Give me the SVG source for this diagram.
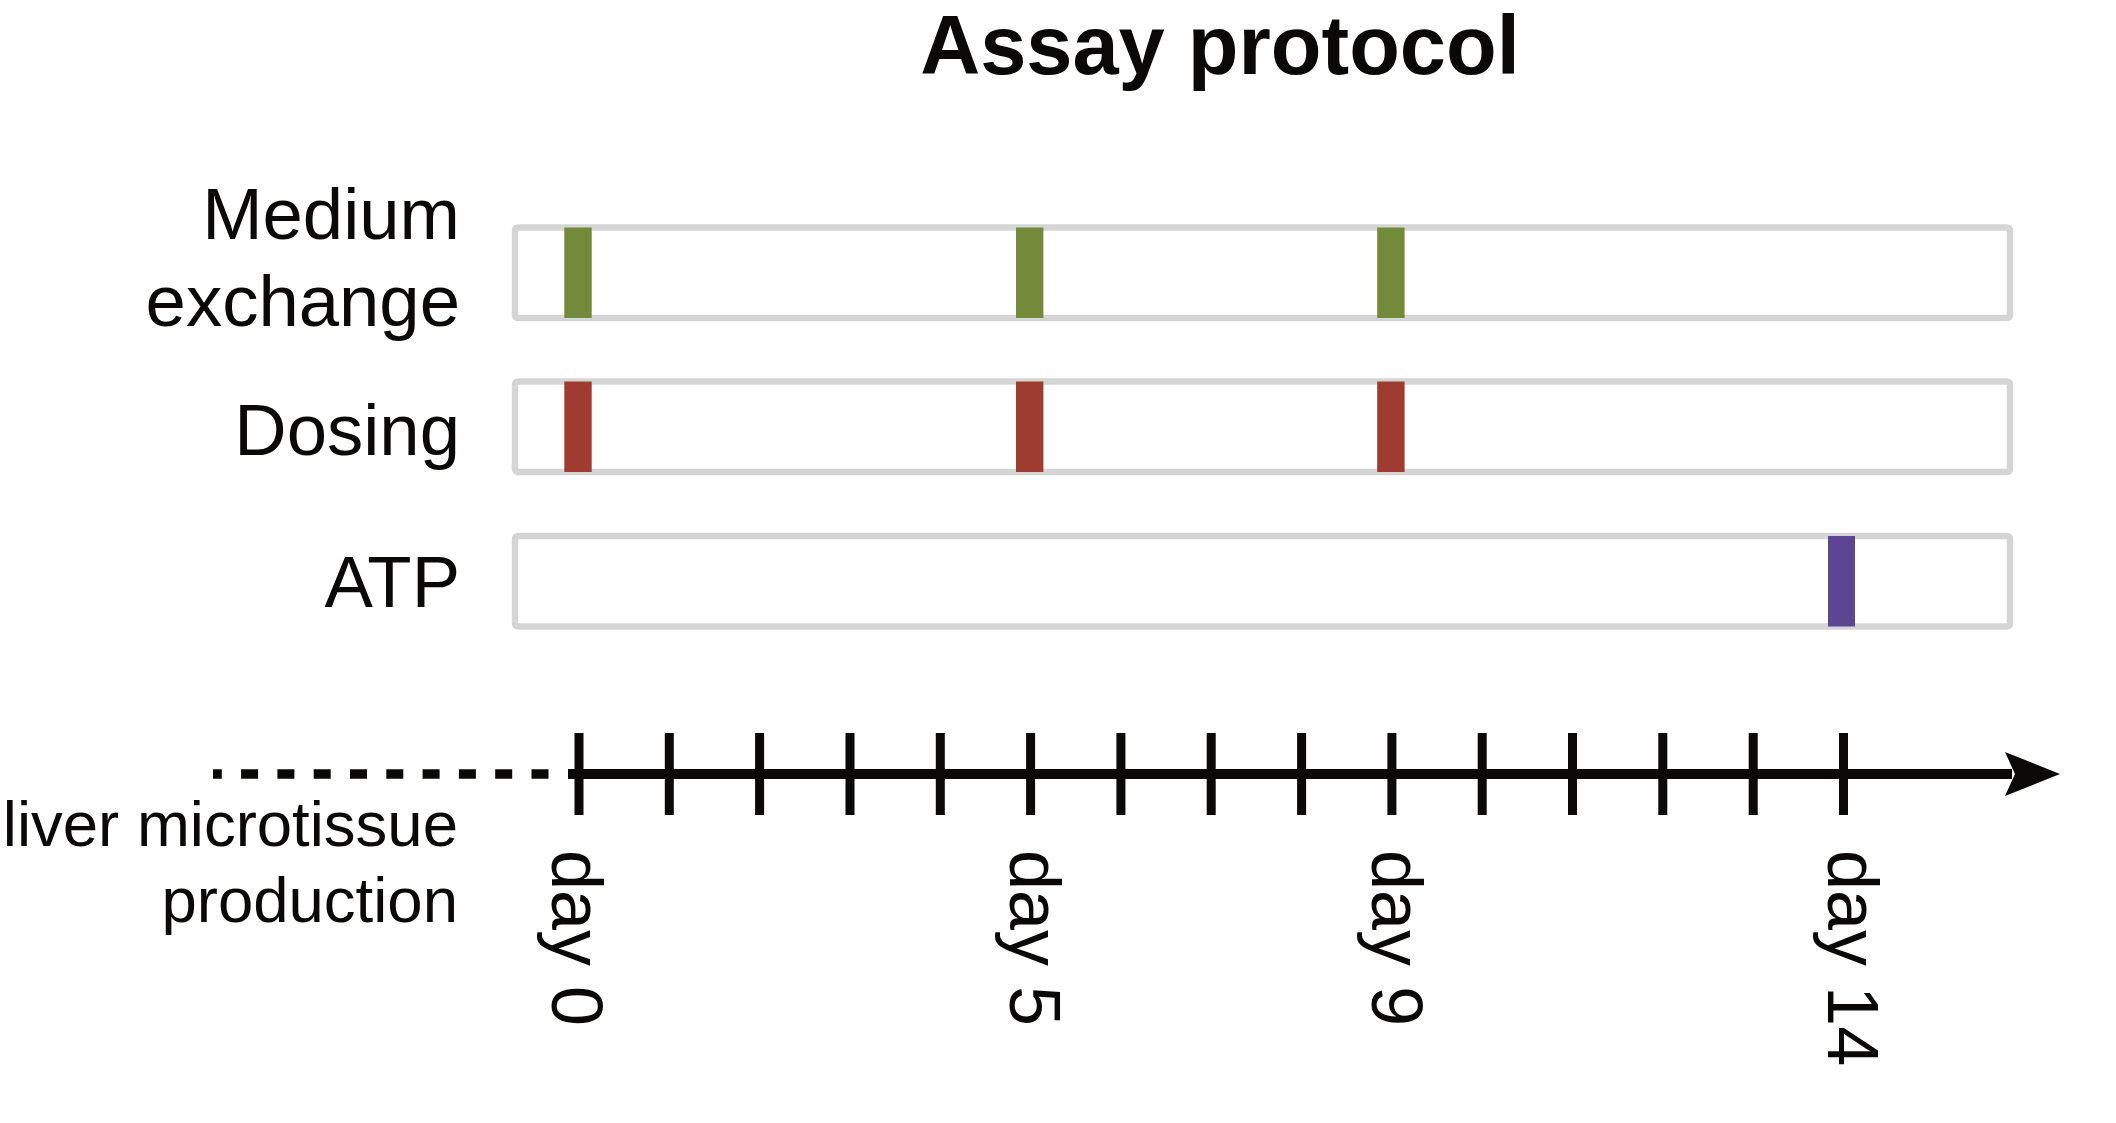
<svg xmlns="http://www.w3.org/2000/svg" width="2116" height="1123" viewBox="0 0 2116 1123">
<defs>
<style>
.t{font-family:"Liberation Sans",Arial,sans-serif;fill:#0b0808}
.lbl{font-size:72.5px;text-anchor:end}
.lbl2{font-size:63.5px;text-anchor:end}
.day{font-size:72px}
.box{fill:#ffffff;stroke:#d5d5d5;stroke-width:6.5}
.g{fill:#738a3a}
.r{fill:#9e3c30}
.p{fill:#5c4691}
.tick{stroke:#0b0808;stroke-width:9;fill:none}
</style>
</defs>
<rect width="2116" height="1123" fill="#ffffff"/>
<g id="title"><text class="t" x="1220" y="74" font-size="83" font-weight="bold" text-anchor="middle">Assay protocol</text></g>
<g id="row-medium">
<text class="t lbl" x="460" y="239">Medium</text>
<text class="t lbl" x="460" y="326">exchange</text>
<rect class="box" x="515" y="227.5" width="1495" height="90.5" rx="3"/>
<rect class="g" x="564.3" y="227.5" width="27.4" height="90.5"/>
<rect class="g" x="1016" y="227.5" width="27.4" height="90.5"/>
<rect class="g" x="1377.2" y="227.5" width="27.4" height="90.5"/>
</g>
<g id="row-dosing">
<text class="t lbl" x="460" y="455">Dosing</text>
<rect class="box" x="515" y="381.5" width="1495" height="90.5" rx="3"/>
<rect class="r" x="564.3" y="381.5" width="27.4" height="90.5"/>
<rect class="r" x="1016" y="381.5" width="27.4" height="90.5"/>
<rect class="r" x="1377.2" y="381.5" width="27.4" height="90.5"/>
</g>
<g id="row-atp">
<text class="t lbl" x="460" y="607">ATP</text>
<rect class="box" x="515" y="536" width="1495" height="90.5" rx="3"/>
<rect class="p" x="1828" y="536" width="27" height="90.5"/>
</g>
<g id="label-production">
<text class="t lbl2" x="458" y="846">liver microtissue</text>
<text class="t lbl2" x="458" y="922">production</text>
</g>
<g id="connectors">
<line x1="548.5" y1="774" x2="213" y2="774" stroke="#0b0808" stroke-width="9.5" stroke-dasharray="17 19.3"/>
<line x1="568" y1="774" x2="2012" y2="774" stroke="#0b0808" stroke-width="10"/>
<path d="M2060,774 L2005,752 L2015,774 L2005,796 Z" fill="#0b0808"/>
<path class="tick" d="M579,733V815M669.3,733V815M759.6,733V815M850,733V815M940.3,733V815M1030.6,733V815M1120.9,733V815M1211.2,733V815M1301.6,733V815M1391.9,733V815M1482.2,733V815M1572.5,733V815M1662.8,733V815M1753.2,733V815M1843.5,733V815"/>
</g>
<g id="day-labels">
<text class="t day" transform="translate(552,850) rotate(90)">day 0</text>
<text class="t day" transform="translate(1010,850) rotate(90)">day 5</text>
<text class="t day" transform="translate(1372,850) rotate(90)">day 9</text>
<text class="t day" transform="translate(1828,850) rotate(90)">day 14</text>
</g>
</svg>
